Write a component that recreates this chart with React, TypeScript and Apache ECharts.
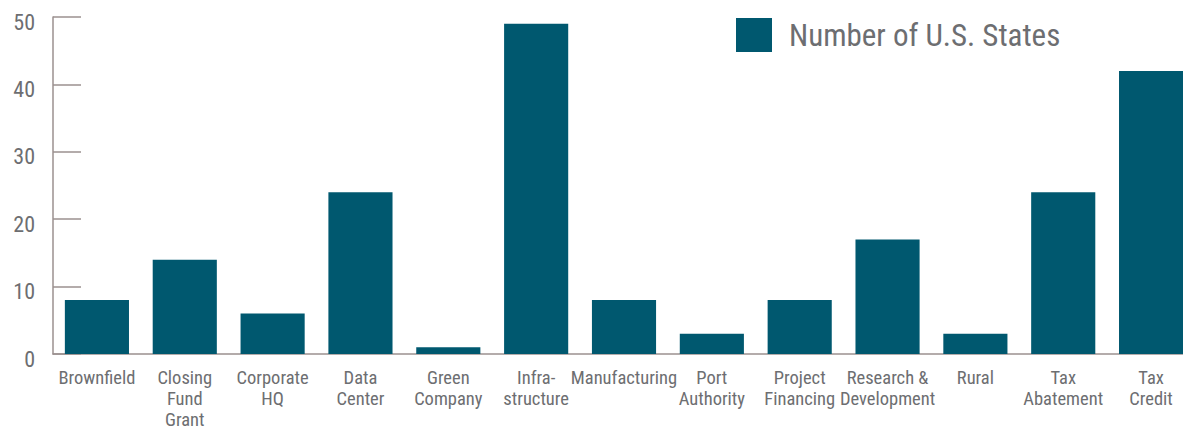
import React, { useEffect, useRef } from "react";
import * as echarts from "echarts";

const categories = [
  "Brownfield",
  "Closing\nFund\nGrant",
  "Corporate\nHQ",
  "Data\nCenter",
  "Green\nCompany",
  "Infra-\nstructure",
  "Manufacturing",
  "Port\nAuthority",
  "Project\nFinancing",
  "Research &\nDevelopment",
  "Rural",
  "Tax\nAbatement",
  "Tax\nCredit",
];
const values = [8, 14, 6, 24, 1, 49, 8, 3, 8, 17, 3, 24, 42];
const seriesName = "Number of U.S. States";

const FONT = "'Liberation Sans Narrow', 'Roboto Condensed', 'Arial Narrow', sans-serif";
const BAR = "#00586f";
const AXIS = "#9b908f";
const TEXT = "#6d6e71";

export default function App() {
  const ref = useRef<HTMLDivElement>(null);
  useEffect(() => {
    const chart = echarts.init(ref.current!, null, { renderer: "svg" });
    chart.setOption({
      animation: false,
      legend: {
        data: [seriesName],
        left: 736,
        top: 18,
        icon: "rect",
        itemWidth: 36,
        itemHeight: 34,
        itemGap: 10,
        textStyle: { fontFamily: FONT, fontSize: 31, color: TEXT, padding: [0, 0, 0, 12] },
        padding: 0,
      },
      grid: {
        left: 53,
        right: 0,
        top: 17,
        bottom: 73,
        containLabel: false,
        outerBoundsMode: "none",
      },
      xAxis: {
        type: "category",
        data: categories,
        axisLine: { lineStyle: { color: AXIS, width: 1.5 } },
        axisTick: { inside: true, length: 6, lineStyle: { color: AXIS, width: 1.5 } },
        axisLabel: {
          interval: 0,
          margin: 13,
          fontFamily: FONT,
          fontSize: 18.5,
          lineHeight: 21,
          color: TEXT,
        },
      },
      yAxis: {
        type: "value",
        min: 0,
        max: 50,
        interval: 10,
        splitLine: { show: false },
        axisLine: { show: true, lineStyle: { color: AXIS, width: 1.5 } },
        axisTick: { show: true, inside: true, length: 28, lineStyle: { color: AXIS, width: 1.5 } },
        axisLabel: {
          margin: 18,
          formatter: "{v|{value}}",
          rich: {
            v: {
              fontFamily: FONT,
              fontSize: 22,
              color: TEXT,
              padding: [10, 0, 0, 0],
            },
          },
        },
      },
      series: [
        {
          name: seriesName,
          type: "bar",
          data: values,
          barWidth: "73%",
          itemStyle: { color: BAR },
        },
      ],
    });
    return () => chart.dispose();
  }, []);
  return (
    <div
      ref={ref}
      style={{ position: "fixed", left: 0, top: 0, width: 1195, height: 427, background: "#fff" }}
    />
  );
}
